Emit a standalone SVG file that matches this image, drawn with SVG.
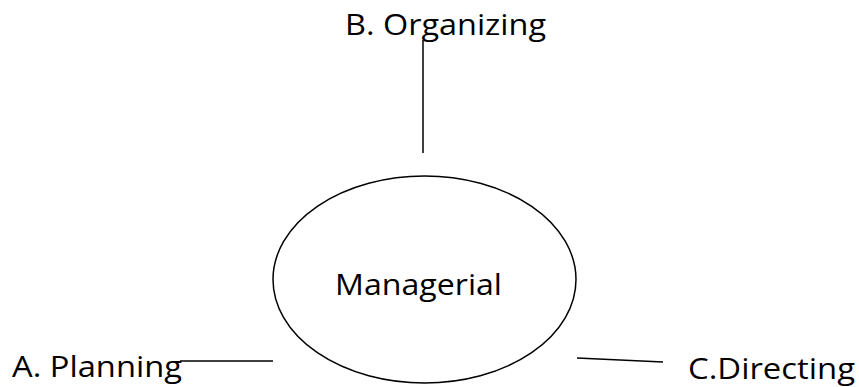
<svg xmlns="http://www.w3.org/2000/svg" width="859" height="387" viewBox="0 0 859 387">
<style>
.t{font-family:"Open Sans","Liberation Sans",Arial,sans-serif;font-size:29px;fill:#000}
.l{stroke:#000;stroke-width:1.5;fill:none}
</style>
<rect width="859" height="387" fill="#fff"/>
<g id="connectors">
<line class="l" x1="423" y1="40" x2="423" y2="153"/>
<line class="l" x1="180" y1="361" x2="273" y2="361"/>
<line class="l" x1="577" y1="358" x2="663" y2="362"/>
</g>
<g id="managerial">
<ellipse class="l" cx="424.5" cy="279.5" rx="151.5" ry="103.5"/>
<text class="t" x="335" y="295" textLength="167" lengthAdjust="spacingAndGlyphs">Managerial</text>
</g>
<g id="organizing">
<text class="t" x="345" y="35" textLength="201" lengthAdjust="spacingAndGlyphs">B. Organizing</text>
</g>
<g id="planning">
<text class="t" x="12" y="377" textLength="170" lengthAdjust="spacingAndGlyphs">A. Planning</text>
</g>
<g id="directing">
<text class="t" x="688" y="379" textLength="167" lengthAdjust="spacingAndGlyphs">C.Directing</text>
</g>
</svg>
